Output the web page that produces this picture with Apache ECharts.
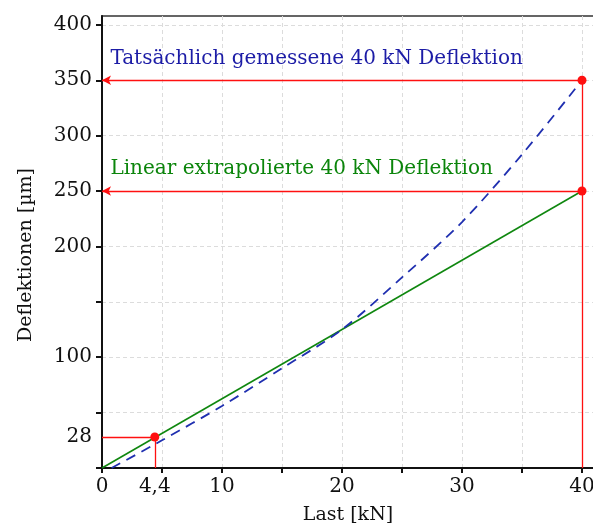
<!DOCTYPE html>
<html>
<head>
<meta charset="utf-8">
<script src="https://cdn.jsdelivr.net/npm/echarts@6/dist/echarts.min.js"></script>
<style>
  html, body { margin: 0; padding: 0; background: #fff; }
  #chart { width: 593px; height: 530px; }
</style>
</head>
<body>
<div id="chart"></div>
<script>
// Load in kN, deflection in µm
const measuredLoad = [0.8, 5, 10, 15, 20, 25, 30, 35, 40];
const measuredDefl = [0, 25, 56, 90, 125, 172, 222, 283, 350];

const linearLoad = [0, 40];
const linearDefl = [0, 250];

// Reference point on the linear part and the two 40 kN values
const refLoad = 4.4;
const refDefl = 28;
const measured40 = 350;
const linear40 = 250;

const xTickValues = [0, 5, 10, 15, 20, 25, 30, 35, 40];
const xLabelValues = [0, 4.4, 10, 20, 30, 40];
const yTickValues = [0, 50, 100, 150, 200, 250, 300, 350, 400];
const yLabelValues = [28, 100, 200, 250, 300, 350, 400];

const labelMeasured = 'Tatsächlich gemessene 40 kN Deflektion';
const labelLinear = 'Linear extrapolierte 40 kN Deflektion';

const FONT = 'DejaVu Serif';
const RED = '#ff1010';

const chart = echarts.init(document.getElementById('chart'), null, { renderer: 'canvas' });

const pairs = (xs, ys) => xs.map((x, i) => [x, ys[i]]);

chart.setOption({
  animation: false,
  backgroundColor: '#fff',
  grid: {
    left: 102, top: 16, width: 492, height: 452,
    outerBoundsMode: 'none', containLabel: false,
    show: true, borderColor: '#333', borderWidth: 1.5
  },
  xAxis: {
    type: 'value', min: 0, max: 41, interval: 5,
    name: 'Last [kN]', nameLocation: 'middle', nameGap: 38,
    nameTextStyle: { fontFamily: FONT, fontSize: 19, color: '#111' },
    axisLine: { show: true, onZero: false, lineStyle: { color: '#111', width: 2 } },
    axisTick: { show: true, length: 5, customValues: xTickValues, lineStyle: { color: '#111', width: 2 } },
    axisLabel: {
      customValues: xLabelValues, margin: 9,
      fontFamily: FONT, fontSize: 20, color: '#111',
      formatter: v => String(v).replace('.', ',')
    },
    splitLine: { show: true, lineStyle: { color: '#dcdcdc', type: [4, 3], width: 1 } }
  },
  yAxis: {
    type: 'value', min: 0, max: 408, interval: 50,
    name: 'Deflektionen [µm]', nameLocation: 'middle', nameGap: 66,
    nameTextStyle: { fontFamily: FONT, fontSize: 19, color: '#111', padding: [0, 26, 0, 0] },
    axisLine: { show: true, onZero: false, lineStyle: { color: '#111', width: 2 } },
    axisTick: { show: true, length: 6, customValues: yTickValues, lineStyle: { color: '#111', width: 2 } },
    axisLabel: {
      customValues: yLabelValues, margin: 10,
      fontFamily: FONT, fontSize: 20, color: '#111'
    },
    splitLine: { show: true, lineStyle: { color: '#dcdcdc', type: [4, 3], width: 1 } }
  },
  series: [
    {
      name: 'Linear',
      type: 'line',
      data: pairs(linearLoad, linearDefl),
      showSymbol: false,
      lineStyle: { color: '#0f870f', width: 1.6 },
      z: 3
    },
    {
      name: 'Gemessen',
      type: 'line',
      data: pairs(measuredLoad, measuredDefl),
      smooth: 0.3,
      showSymbol: false,
      lineStyle: { color: '#1f2fb0', width: 1.8, type: [10, 7] },
      z: 3
    },
    {
      // guide lines from the axes to the marked values
      name: 'Hilfslinien',
      type: 'line',
      data: [],
      markLine: {
        silent: true,
        symbol: ['none', 'none'],
        label: { show: false },
        lineStyle: { color: RED, width: 1.3, type: 'solid' },
        data: [
          [{ coord: [40, measured40], symbol: 'none' }, { coord: [0, measured40], symbol: 'arrow', symbolSize: [7, 9] }],
          [{ coord: [40, linear40], symbol: 'none' }, { coord: [0, linear40], symbol: 'arrow', symbolSize: [7, 9] }],
          [{ coord: [40, measured40] }, { coord: [40, 0] }],
          [{ coord: [0, refDefl] }, { coord: [refLoad, refDefl] }],
          [{ coord: [refLoad, refDefl] }, { coord: [refLoad, 0] }]
        ]
      },
      z: 2
    },
    {
      name: 'Punkte',
      type: 'scatter',
      data: [[40, measured40], [40, linear40], [refLoad, refDefl]],
      symbolSize: 9,
      itemStyle: { color: RED, opacity: 1 },
      z: 5
    },
    {
      name: 'Beschriftung',
      type: 'scatter',
      symbolSize: 0,
      silent: true,
      itemStyle: { opacity: 1 },
      data: [
        { value: [0.7, 369], label: { formatter: labelMeasured, color: '#1c1ca6' } },
        { value: [0.7, 270], label: { formatter: labelLinear, color: '#0b850b' } }
      ],
      label: {
        show: true, position: 'right', distance: 0,
        fontFamily: FONT, fontSize: 20
      },
      z: 6
    }
  ]
});
</script>
</body>
</html>
